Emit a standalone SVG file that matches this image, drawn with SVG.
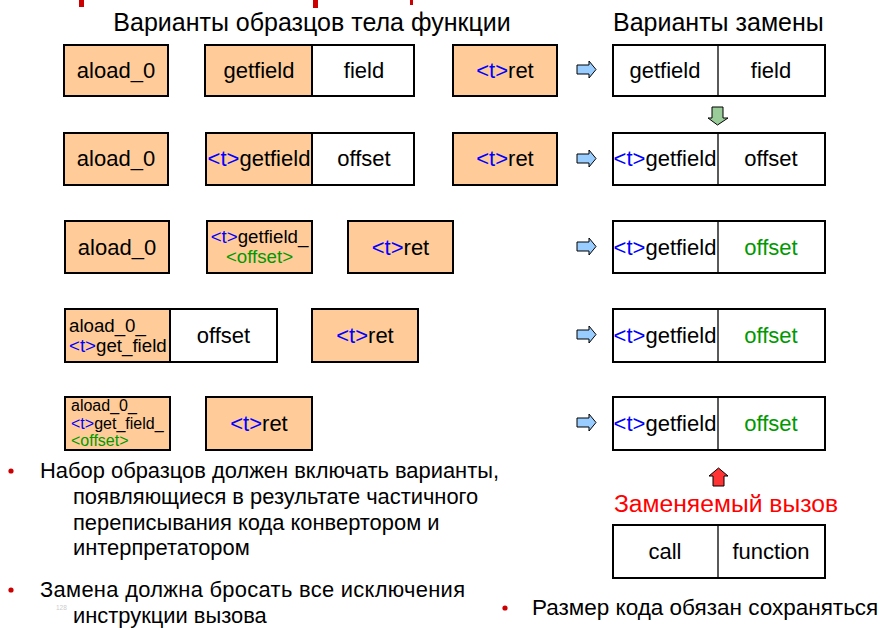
<svg xmlns="http://www.w3.org/2000/svg" width="885" height="628" viewBox="0 0 885 628">
<style>
text{font-family:"Liberation Sans",Arial,sans-serif;fill:#000}
.o{fill:#FFCC99;stroke:#000;stroke-width:2}
.w{fill:#fff;stroke:#000;stroke-width:2}
.dv{stroke:#000;stroke-width:1.3}
.b{font-size:22px}
.m{font-size:18.7px}
.s{font-size:16px}
.t{fill:#0000FF}
.g{fill:#009900}
.h{font-size:25px}
.p{font-size:21.9px}
.bul{fill:#CC0000}
.ra{fill:#99CCFF;stroke:#000;stroke-width:1}
</style>
<rect width="885" height="628" fill="#fff"/>
<g id="top-marks" fill="#CC0000">
<rect x="79" y="0" width="5" height="7"/>
<rect x="313" y="0" width="5" height="8"/>
<rect x="410" y="0" width="3" height="5"/>
</g>
<text class="h" x="312" y="31" text-anchor="middle">Варианты образцов тела функции</text>
<text class="h" x="613" y="31">Варианты замены</text>

<!-- Row 1 -->
<g id="r1-aload"><rect class="o" x="64" y="45" width="104" height="51"/><text class="b" x="116" y="78" text-anchor="middle">aload_0</text></g>
<g id="r1-getfield"><rect class="o" x="205" y="45" width="107" height="51"/><rect class="w" x="312" y="45" width="102" height="51"/><text class="b" x="259" y="78" text-anchor="middle">getfield</text><text class="b" x="364" y="78" text-anchor="middle">field</text></g>
<g id="r1-ret"><rect class="o" x="453" y="45" width="104" height="51"/><text class="b" x="505" y="78" text-anchor="middle"><tspan class="t">&lt;t&gt;</tspan>ret</text></g>
<g id="r1-repl"><rect class="w" x="613" y="45" width="212" height="51"/><line class="dv" x1="718" y1="45" x2="718" y2="96"/><text class="b" x="665" y="78" text-anchor="middle">getfield</text><text class="b" x="771" y="78" text-anchor="middle">field</text></g>

<!-- Row 2 -->
<g id="r2-aload"><rect class="o" x="64" y="133" width="104" height="52"/><text class="b" x="116" y="166" text-anchor="middle">aload_0</text></g>
<g id="r2-getfield"><rect class="o" x="206" y="133" width="106" height="52"/><rect class="w" x="312" y="133" width="102" height="52"/><text class="b" x="259" y="166" text-anchor="middle"><tspan class="t">&lt;t&gt;</tspan>getfield</text><text class="b" x="364" y="166" text-anchor="middle">offset</text></g>
<g id="r2-ret"><rect class="o" x="453" y="133" width="104" height="52"/><text class="b" x="505" y="166" text-anchor="middle"><tspan class="t">&lt;t&gt;</tspan>ret</text></g>
<g id="r2-repl"><rect class="w" x="613" y="133" width="212" height="52"/><line class="dv" x1="718" y1="133" x2="718" y2="185"/><text class="b" x="665" y="166" text-anchor="middle"><tspan class="t">&lt;t&gt;</tspan>getfield</text><text class="b" x="771" y="166" text-anchor="middle">offset</text></g>

<!-- Row 3 -->
<g id="r3-aload"><rect class="o" x="65" y="221" width="104" height="52"/><text class="b" x="117" y="255" text-anchor="middle">aload_0</text></g>
<g id="r3-getfield"><rect class="o" x="207" y="221" width="105" height="52"/><text class="m" x="259.5" y="243" text-anchor="middle"><tspan class="t">&lt;t&gt;</tspan>getfield_</text><text class="m g" x="259.5" y="263" text-anchor="middle">&lt;offset&gt;</text></g>
<g id="r3-ret"><rect class="o" x="348" y="221" width="105" height="52"/><text class="b" x="400.5" y="255" text-anchor="middle"><tspan class="t">&lt;t&gt;</tspan>ret</text></g>
<g id="r3-repl"><rect class="w" x="613" y="221" width="212" height="52"/><line class="dv" x1="718" y1="221" x2="718" y2="273"/><text class="b" x="665" y="255" text-anchor="middle"><tspan class="t">&lt;t&gt;</tspan>getfield</text><text class="b g" x="771" y="255" text-anchor="middle">offset</text></g>

<!-- Row 4 -->
<g id="r4-aload-getfield"><rect class="o" x="65" y="309" width="105" height="53"/><rect class="w" x="170" y="309" width="107" height="53"/><text class="m" x="69" y="332">aload_0_</text><text class="m" x="69" y="352"><tspan class="t">&lt;t&gt;</tspan>get_field</text><text class="b" x="223.5" y="343" text-anchor="middle">offset</text></g>
<g id="r4-ret"><rect class="o" x="312" y="309" width="106" height="53"/><text class="b" x="365" y="343" text-anchor="middle"><tspan class="t">&lt;t&gt;</tspan>ret</text></g>
<g id="r4-repl"><rect class="w" x="613" y="309" width="212" height="53"/><line class="dv" x1="718" y1="309" x2="718" y2="362"/><text class="b" x="665" y="343" text-anchor="middle"><tspan class="t">&lt;t&gt;</tspan>getfield</text><text class="b g" x="771" y="343" text-anchor="middle">offset</text></g>

<!-- Row 5 -->
<g id="r5-combined"><rect class="o" x="65" y="397" width="105" height="53"/><text class="s" x="71" y="411">aload_0_</text><text class="s" x="71" y="429"><tspan class="t">&lt;t&gt;</tspan>get_field_</text><text class="s g" x="71" y="446">&lt;offset&gt;</text></g>
<g id="r5-ret"><rect class="o" x="206" y="397" width="106" height="53"/><text class="b" x="259" y="431" text-anchor="middle"><tspan class="t">&lt;t&gt;</tspan>ret</text></g>
<g id="r5-repl"><rect class="w" x="613" y="397" width="212" height="53"/><line class="dv" x1="718" y1="397" x2="718" y2="450"/><text class="b" x="665" y="431" text-anchor="middle"><tspan class="t">&lt;t&gt;</tspan>getfield</text><text class="b g" x="771" y="431" text-anchor="middle">offset</text></g>

<!-- Call box -->
<g id="call-label"><text x="726" y="512" text-anchor="middle" style="fill:#FF0000;font-size:24.7px">Заменяемый вызов</text></g>
<g id="call-box"><rect class="w" x="613" y="525" width="212" height="53"/><line class="dv" x1="718" y1="525" x2="718" y2="578"/><text class="b" x="665" y="559" text-anchor="middle">call</text><text class="b" x="771" y="559" text-anchor="middle">function</text></g>

<!-- Connectors (block arrows) -->
<g id="connectors">
<polygon class="ra" points="577,65 589,65 589,61 596,69.5 589,78 589,74 577,74"/>
<polygon class="ra" points="577,154 589,154 589,150 596,158.5 589,167 589,163 577,163"/>
<polygon class="ra" points="577,242 589,242 589,238 596,246.5 589,255 589,251 577,251"/>
<polygon class="ra" points="577,330 589,330 589,326 596,334.5 589,343 589,339 577,339"/>
<polygon class="ra" points="577,418 589,418 589,414 596,422.5 589,431 589,427 577,427"/>
<polygon points="712,107 723,107 723,118 728,118 717.5,125 708,118 712,118" fill="#99CC99" stroke="#000" stroke-width="1"/>
<polygon points="713,486 724,486 724,476 728,476 718.5,468 709,476 713,476" fill="#FF3333" stroke="#000" stroke-width="1"/>
</g>

<!-- Bullets -->
<g id="notes">
<circle class="bul" cx="11" cy="471" r="2.6"/>
<text class="p" x="40" y="478">Набор образцов должен включать варианты,</text>
<text class="p" x="73" y="504">появляющиеся в результате частичного</text>
<text class="p" x="73" y="530">переписывания кода конвертором и</text>
<text class="p" x="73" y="555">интерпретатором</text>
<circle class="bul" cx="11" cy="590" r="2.6"/>
<text class="p" x="40" y="597" textLength="425" lengthAdjust="spacing">Замена должна бросать все исключения</text>
<text class="p" x="73" y="623">инструкции вызова</text>
<text x="56" y="610" style="font-size:6.5px;fill:#ccc">128</text>
<circle class="bul" cx="505" cy="608" r="2.6"/>
<text x="532" y="615" style="font-size:22.5px">Размер кода обязан сохраняться</text>
</g>
</svg>
